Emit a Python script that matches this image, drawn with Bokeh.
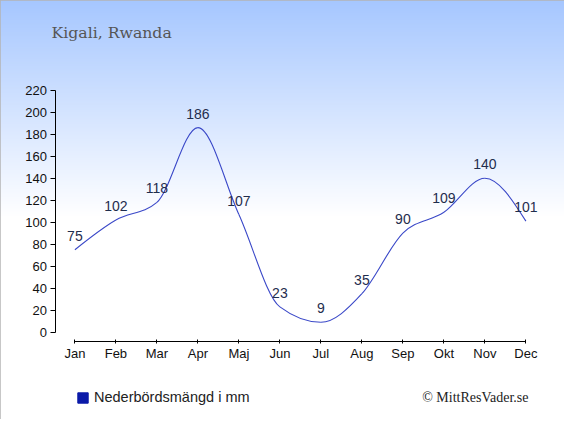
import numpy as np
from bokeh.plotting import figure
from bokeh.models import Range1d, FixedTicker, Label, Legend, LegendItem, LinearAxis
from bokeh.core.properties import value
from bokeh.embed import file_html
from bokeh.resources import INLINE

months = ["Jan", "Feb", "Mar", "Apr", "Maj", "Jun", "Jul", "Aug", "Sep", "Okt", "Nov", "Dec"]
rain = [75, 102, 118, 186, 107, 23, 9, 35, 90, 109, 140, 101]
y_ticks = [0, 20, 40, 60, 80, 100, 120, 140, 160, 180, 200, 220]
title_text = "Kigali, Rwanda"
legend_text = "Nederbördsmängd i mm"
credit_text = "© MittResVader.se"

W, H = 564, 419
x0px, dx = 74.4, 41.0      # screen px of Jan, px per month
y0px, dy = 331.7, 1.1      # screen px of 0 mm, px per mm
xr = Range1d(-x0px / dx, (W - x0px) / dx)
yr = Range1d(-(H - y0px) / dy, y0px / dy)

p = figure(width=W, height=H, x_range=xr, y_range=yr, output_backend="svg",
           toolbar_location=None, min_border=0, x_axis_location=None,
           y_axis_location=None)
p.outline_line_color = "#b4b4b4"
p.outline_line_width = 1.5
p.grid.grid_line_color = None
p.background_fill_color = "white"
p.border_fill_color = "white"

# vertical gradient background
n = H
rows = np.arange(n)
refy = (H - rows - 0.5)
t = np.clip(refy / 215.0, 0, 1)
top = np.array([166, 199, 255], dtype=float)
col = top[None, :] * (1 - t[:, None]) + 255.0 * t[:, None]
img = np.zeros((n, 1), dtype=np.uint32)
view = img.view(dtype=np.uint8).reshape((n, 1, 4))
view[:, 0, 0] = col[:, 0].astype(np.uint8)
view[:, 0, 1] = col[:, 1].astype(np.uint8)
view[:, 0, 2] = col[:, 2].astype(np.uint8)
view[:, 0, 3] = 255
p.image_rgba(image=[img], x=xr.start, y=yr.start, dw=xr.end - xr.start, dh=yr.end - yr.start)

# axes
xaxis = LinearAxis(fixed_location=-8.9, bounds=(0, len(months) - 1),
                   ticker=FixedTicker(ticks=list(range(len(months)))),
                   major_label_overrides={i: m for i, m in enumerate(months)})
xaxis.major_tick_in = 2
xaxis.major_tick_out = 2
xaxis.minor_tick_line_color = None
xaxis.major_label_standoff = 2
xaxis.major_label_text_font = "Liberation Sans"
xaxis.major_label_text_font_size = "13px"
xaxis.major_label_text_color = "#111111"
p.add_layout(xaxis, "below")

yaxis = LinearAxis(fixed_location=-0.485, bounds=(0, 220),
                   ticker=FixedTicker(ticks=y_ticks))
yaxis.major_tick_in = 0
yaxis.major_tick_out = 5
yaxis.minor_tick_line_color = None
yaxis.major_label_standoff = 3
yaxis.major_label_text_font = "Liberation Sans"
yaxis.major_label_text_font_size = "13px"
yaxis.major_label_text_color = "#111111"
p.add_layout(yaxis, "left")

# monotone cubic curve through the data, drawn as bezier segments
xs = np.arange(len(rain), dtype=float)
ys = np.array(rain, dtype=float)
s = np.diff(ys)
m = np.zeros(len(ys))
for i in range(1, len(ys) - 1):
    a, b = s[i - 1], s[i]
    if a * b <= 0:
        m[i] = 0.0
    else:
        pm = (a + b) / 2.0
        m[i] = (np.sign(a) + np.sign(b)) * min(abs(a), abs(b), 0.5 * abs(pm))
m[0] = (3 * s[0] - m[1]) / 2.0
m[-1] = (3 * s[-1] - m[-2]) / 2.0
p.bezier(x0=xs[:-1], y0=ys[:-1], x1=xs[1:], y1=ys[1:],
         cx0=xs[:-1] + 1 / 3, cy0=ys[:-1] + m[:-1] / 3,
         cx1=xs[1:] - 1 / 3, cy1=ys[1:] - m[1:] / 3,
         line_color="#3a48c8", line_width=1.1)

# value labels
p.text(x=xs, y=ys, text=[str(v) for v in rain], y_offset=-14,
       text_align="center", text_baseline="middle",
       text_font=value("Liberation Sans"), text_font_size="14px",
       text_color="#1f2d4d")

# legend (swatch only; the quad itself has no visible position)
nan = np.array([np.nan])
swatch = p.quad(left=nan, right=nan, top=nan, bottom=nan, fill_color="#0b1aa8",
                line_color="#0b1aa8")
legend = Legend(items=[LegendItem(label=legend_text, renderers=[swatch])],
                location=(76, 14), glyph_width=13, glyph_height=13,
                label_height=13, label_standoff=5, padding=0, margin=0,
                border_line_color=None, background_fill_alpha=0,
                label_text_font="Liberation Sans", label_text_font_size="14.5px",
                label_text_color="#222222")
p.add_layout(legend, "center")

p.add_layout(Label(x=51, y=H - 32, x_units="screen", y_units="screen",
                   text=title_text, text_font="DejaVu Serif", text_font_size="15.7px",
                   text_color="#555555", text_baseline="middle"))
p.add_layout(Label(x=528, y=H - 397, x_units="screen", y_units="screen",
                   text=credit_text, text_font="Liberation Serif", text_font_size="14px",
                   text_color="#222222", text_align="right", text_baseline="middle"))

open("out.html", "w").write(file_html(p, INLINE))
